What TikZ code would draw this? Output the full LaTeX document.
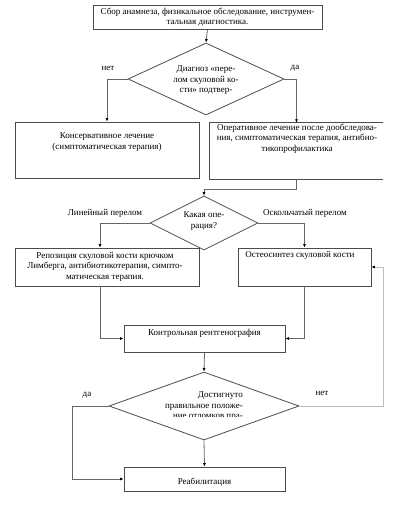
\documentclass[tikz,border=0pt]{standalone}
\usepackage{fontspec}
\setmainfont{Liberation Serif}
\usetikzlibrary{arrows.meta,shapes.geometric}
\begin{document}
\begin{tikzpicture}[x=1pt,y=-1pt,
  box/.style={rectangle,draw=black!70,line width=0.8pt,inner sep=0pt},
  openbox/.style={rectangle,inner sep=0pt},
  dia/.style={diamond,draw=black!70,line width=0.8pt,inner sep=0pt},
  txt/.style={font=\fontsize{9}{10.5}\selectfont,inner sep=0pt,align=center},
  conn/.style={draw=black!60,line width=0.8pt},
  arr/.style={conn,-{Latex[length=3.5pt,width=3pt,color=black]}},
  light/.style={draw=black!25}]
\useasboundingbox (0,0) rectangle (409,524);

% boxes
\node[box,minimum width=229pt,minimum height=24pt] (b1) at (207.5,17) {};
\node[box,minimum width=184pt,minimum height=56pt] (b2) at (107,150) {};
\node[openbox,minimum width=173pt,minimum height=56pt] (b3) at (296.5,151) {};
\draw[draw=black!70,line width=0.8pt] (b3.north east) -- (b3.north west) -- (b3.south west) -- (b3.south east);
\node[box,minimum width=184pt,minimum height=38pt] (b4) at (107,267) {};
\node[box,minimum width=133pt,minimum height=38pt] (b5) at (304.5,267) {};
\node[box,minimum width=161pt,minimum height=27pt] (b6) at (204.5,338.5) {};
\node[box,minimum width=161pt,minimum height=24pt] (b7) at (204.5,479) {};

% diamonds
\node[dia,minimum width=156pt,minimum height=72pt] (d1) at (206,79) {};
\node[dia,minimum width=108pt,minimum height=54pt] (d2) at (204,223) {};
\node[dia,minimum width=190pt,minimum height=68pt] (d3) at (204,406) {};

% texts
\node[txt] (t1) at (b1.center) {Сбор анамнеза, физикальное обследование, инструмен-\\тальная диагностика.};
\node[txt,anchor=north] (t2) at (107,132.7) {Консервативное лечение\\(симптоматическая терапия)};
\node[txt,anchor=north] (t3) at (297,123.7) {Оперативное лечение после дообследова-\\ния, симптоматическая терапия, антибио-\\тикопрофилактика};
\node[txt,anchor=north] (t4) at (105,251.7) {Репозиция скуловой кости крючком\\Лимберга, антибиотикотерапия, симпто-\\матическая терапия.};
\node[txt,anchor=north] (t5) at (300,250.7) {Остеосинтез скуловой кости};
\node[txt,anchor=north] (t6) at (204.5,328.7) {Контрольная рентгенография};
\node[txt,anchor=north] (t7) at (204.5,477.7) {Реабилитация};
\node[txt,anchor=north] (td1) at (206,65.7) {Диагноз «пере-\\лом скуловой ко-\\сти» подтвер-};
\node[txt,anchor=north] (td2) at (204,211.7) {Какая опе-\\рация?};
\begin{scope}
  \clip (100,370) rectangle (300,416.5);
  \node[txt,align=right,anchor=north east] (td3) at (243,391.7) {Достигнуто\\правильное положе-\\ние отломков пра-};
\end{scope}

% labels
\node[txt] (l1) at (108,68) {нет};
\node[txt] (l2) at (295,68) {да};
\node[txt] (l3) at (105,213) {Линейный перелом};
\node[txt] (l4) at (305,213) {Оскольчатый перелом};
\node[txt] (l5) at (87,395) {да};
\node[txt] (l6) at (322,393) {нет};

% connectors
\draw[arr] (b1.south) -- (d1.north);
\draw[arr] (d1.west) -| (b2.north);
\draw[arr] (d1.east) -| (b3.north);
\draw[arr] (b3.south) -- ++(0,10) -| (d2.north);
\draw[arr] (d2.west) -| ([xshift=-7pt]b4.north);
\draw[arr] (d2.east) -| (b5.north);
\draw[arr] ([xshift=-7pt]b4.south) |- (b6.west);
\draw[arr] (b5.south) |- (b6.east);
\draw[arr] (b6.south) -- (d3.north);
\draw[arr] (d3.west) -- ++(-36,0) |- (b7.west);
\draw[arr] (d3.south) -- (b7.north);
\draw[arr,light] (d3.east) -- ++(84,0) |- (b5.east);
\end{tikzpicture}
\end{document}
